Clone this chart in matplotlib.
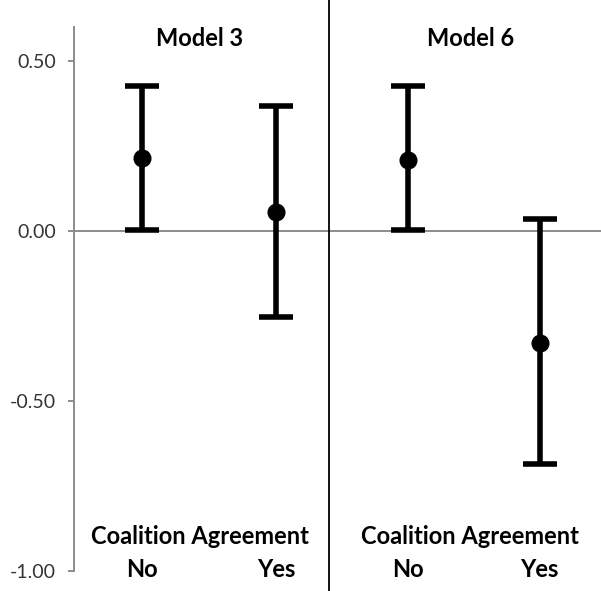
import numpy as np
import matplotlib.pyplot as plt

plt.rcParams['font.family'] = ['Lato', 'DejaVu Sans']

# estimates and confidence bounds
models = ['Model 3', 'Model 6']
groups = ['No', 'Yes']
estimate = [0.214, 0.056, 0.209, -0.330]
lower = [0.003, -0.253, 0.003, -0.685]
upper = [0.426, 0.368, 0.426, 0.035]
xpos = [0.51, 1.52, 2.51, 3.50]

fig = plt.figure(figsize=(6.01, 5.91), dpi=100)
ax = fig.add_axes([74 / 601, 20 / 591, 527 / 601, 544 / 591])

est = np.array(estimate)
yerr = [est - np.array(lower), np.array(upper) - est]
ax.errorbar(xpos, est, yerr=yerr, fmt='o', color='black', ms=12,
            elinewidth=4, capsize=12, capthick=4, zorder=3)

ax.axhline(0, color='#8c8c8c', lw=1.4, zorder=1)
ax.axvline(1.92, ymin=-0.04, ymax=1.06, color='black', lw=1.3, clip_on=False)

ax.set_xlim(0, 527 / 133)
ax.set_ylim(-1.0, 0.6)
ax.set_yticks([0.5, 0.0, -0.5, -1.0])
ax.set_yticklabels(['0.50', '0.00', '-0.50', '-1.00'])
ax.set_xticks([])
ax.tick_params(axis='y', colors='#8c8c8c', labelcolor='#333333', labelsize=14,
               length=4, width=1.4, pad=9)
for s in ['top', 'right', 'bottom']:
    ax.spines[s].set_visible(False)
ax.spines['left'].set_color('#8c8c8c')
ax.spines['left'].set_linewidth(1.4)

# panel titles and group labels
centres = [0.947, 2.98]
for i, m in enumerate(models):
    ax.text(centres[i], 0.565, m, ha='center', va='center', fontsize=17, fontweight='bold')
    ax.text(centres[i], -0.90, 'Coalition Agreement', ha='center', va='center',
            fontsize=17, fontweight='bold')
    for j, g in enumerate(groups):
        ax.text(xpos[2 * i + j], -0.995, g, ha='center', va='center',
                fontsize=17, fontweight='bold')

fig.savefig('out.png', dpi=100)
